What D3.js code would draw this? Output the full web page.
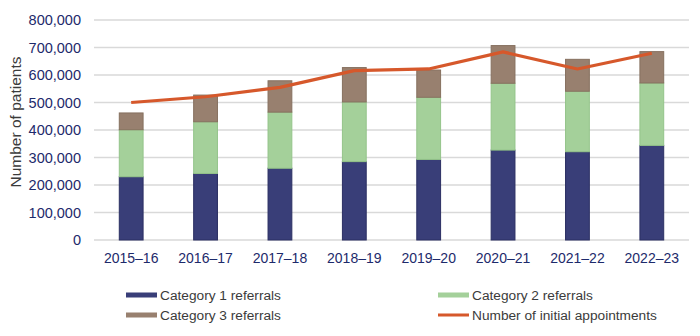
<!DOCTYPE html>
<html>
<head>
<meta charset="utf-8">
<script src="https://cdn.jsdelivr.net/npm/d3@7"></script>
<style>
  body { margin: 0; background: #fff; }
  text { font-family: "Liberation Sans", Arial, sans-serif; }
</style>
</head>
<body>
<div id="chart"></div>
<script>
  var years = ["2015–16", "2016–17", "2017–18", "2018–19", "2019–20", "2020–21", "2021–22", "2022–23"];
  var cat1 = [230000, 242000, 261000, 285000, 293000, 327000, 321000, 344000];
  var cat2 = [171000, 188000, 204000, 217000, 226000, 243000, 220000, 227000];
  var cat3 = [61000, 97000, 114000, 125000, 99000, 137000, 116000, 114000];
  var appointments = [500000, 521000, 555000, 616000, 622000, 684000, 622000, 679000];
  var yTicks = [0, 100000, 200000, 300000, 400000, 500000, 600000, 700000, 800000];

  var seriesNames = ["Category 1 referrals", "Category 2 referrals", "Category 3 referrals"];
  var colors = ["#393e78", "#a4d09a", "#98806f"];
  var strokes = ["#2b2f63", "#94c48a", "#86705f"];
  var lineColor = "#d6582b";

  var width = 700, height = 336;
  var svg = d3.select("#chart").append("svg")
    .attr("width", width)
    .attr("height", height);

  var x = d3.scaleBand().domain(years).range([94, 689]).paddingInner(0.68).paddingOuter(0.34);
  var y = d3.scaleLinear().domain([0, 800000]).range([240, 20]);

  // gridlines
  svg.append("g").selectAll("line")
    .data(yTicks)
    .enter().append("line")
    .attr("x1", 94).attr("x2", 689)
    .attr("y1", function(d) { return y(d); })
    .attr("y2", function(d) { return y(d); })
    .style("stroke", "#d9d9d9")
    .style("stroke-width", 1.3);

  // y tick labels
  svg.append("g").selectAll("text")
    .data(yTicks)
    .enter().append("text")
    .attr("x", 81)
    .attr("y", function(d) { return y(d); })
    .attr("dy", "0.35em")
    .attr("text-anchor", "end")
    .style("font-size", "14.5px")
    .style("fill", "#1d2a6b")
    .text(function(d) { return d3.format(",")(d); });

  svg.append("text")
    .attr("transform", "translate(21,122) rotate(-90)")
    .attr("text-anchor", "middle")
    .style("font-size", "15.5px")
    .style("fill", "#3b3b3b")
    .text("Number of patients");

  // x labels
  svg.append("g").selectAll("text")
    .data(years)
    .enter().append("text")
    .attr("x", function(d) { return x(d) + x.bandwidth() / 2; })
    .attr("y", 263)
    .attr("text-anchor", "middle")
    .style("font-size", "14px")
    .style("fill", "#1d2a6b")
    .text(function(d) { return d; });

  // stacked bars
  var rows = years.map(function(d, i) { return { year: d, c1: cat1[i], c2: cat2[i], c3: cat3[i] }; });
  var stack = d3.stack().keys(["c1", "c2", "c3"]);
  var layers = stack(rows);

  svg.append("g").selectAll("g")
    .data(layers)
    .enter().append("g")
    .style("fill", function(d, i) { return colors[i]; })
    .style("stroke", function(d, i) { return strokes[i]; })
    .style("stroke-width", 1)
    .selectAll("rect")
    .data(function(d) { return d; })
    .enter().append("rect")
    .attr("x", function(d) { return x(d.data.year); })
    .attr("width", x.bandwidth())
    .attr("y", function(d) { return y(d[1]); })
    .attr("height", function(d) { return y(d[0]) - y(d[1]); });

  // line
  var line = d3.line()
    .x(function(d, i) { return x(years[i]) + x.bandwidth() / 2; })
    .y(function(d) { return y(d); });

  svg.append("path")
    .datum(appointments)
    .attr("d", line)
    .style("fill", "none")
    .style("stroke", lineColor)
    .style("stroke-width", 3.2)
    .style("stroke-linejoin", "round");

  // legend
  var legend = [
    { name: seriesNames[0], color: colors[0], x: 126, y: 295, type: "bar" },
    { name: seriesNames[1], color: colors[1], x: 438, y: 295, type: "bar" },
    { name: seriesNames[2], color: colors[2], x: 126, y: 315, type: "bar" },
    { name: "Number of initial appointments", color: lineColor, x: 438, y: 315, type: "line" }
  ];

  var lg = svg.append("g").selectAll("g")
    .data(legend)
    .enter().append("g")
    .attr("transform", function(d) { return "translate(" + d.x + "," + d.y + ")"; });

  lg.append("rect")
    .attr("x", 0)
    .attr("width", 31)
    .attr("y", function(d) { return d.type == "bar" ? -2.5 : -1.5; })
    .attr("height", function(d) { return d.type == "bar" ? 5 : 3; })
    .style("fill", function(d) { return d.color; });

  lg.append("text")
    .attr("x", 34)
    .attr("dy", "0.35em")
    .style("font-size", "13.7px")
    .style("fill", "#3b3b3b")
    .text(function(d) { return d.name; });
</script>
</body>
</html>
